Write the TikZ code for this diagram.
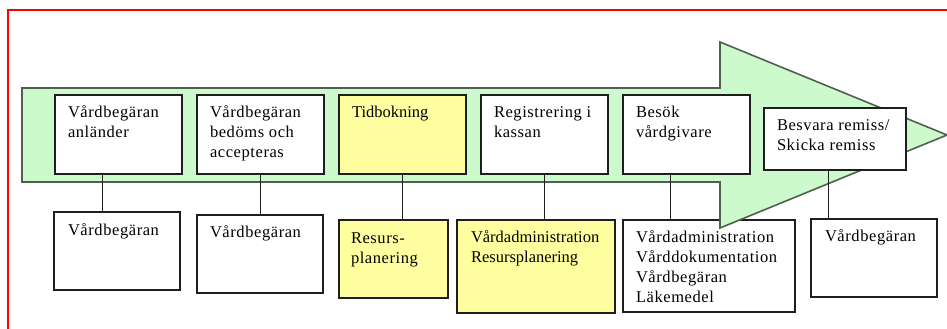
\documentclass[tikz,border=0pt]{standalone}
\usepackage{fontspec}
\setmainfont{Liberation Serif}
\newfontfamily\spc[LetterSpace=3.5]{Liberation Serif}
\definecolor{arrowfill}{RGB}{204,250,204}
\definecolor{arrowline}{RGB}{80,95,80}
\definecolor{boxyellow}{RGB}{255,255,160}
\definecolor{boxline}{RGB}{30,30,30}
\begin{document}
\begin{tikzpicture}[x=1pt,y=-1pt,
  box/.style={draw=boxline, line width=1.3pt, fill=white, inner sep=0pt, outer sep=0pt, anchor=north west},
  ybox/.style={box, fill=boxyellow},
  txt/.style={anchor=north west, inner sep=0pt, outer sep=0pt, align=left, font=\fontsize{16.5}{20}\spc},
  ntxt/.style={txt, font=\fontsize{16.5}{20}\selectfont},
  link/.style={draw=boxline, line width=1pt},
  arrowst/.style={draw=arrowline, fill=arrowfill, line width=1.6pt, line join=miter}]
\useasboundingbox (0,0) rectangle (947,329);
% red frame
\draw[red, line width=1.3pt] (8,329) -- (8,10) -- (947,10);
% bottom boxes
\node[box, minimum width=126pt, minimum height=78pt] (b1) at (54,212) {};
\node[box, minimum width=126pt, minimum height=78pt] (b2) at (197,215) {};
\node[ybox, minimum width=109pt, minimum height=78pt] (b3) at (339,220) {};
\node[ybox, minimum width=158pt, minimum height=93pt] (b4) at (457,220) {};
\node[box, minimum width=172pt, minimum height=92pt] (b5) at (623,220) {};
\node[box, minimum width=126pt, minimum height=78pt] (b6) at (811,219) {};
% arrow
\draw[arrowst] (22,88) -- (720,88) -- (720,42) -- (947,135) -- (720,228) -- (720,182) -- (22,182) -- cycle;
% top boxes
\node[box, minimum width=127pt, minimum height=79pt] (t1) at (55,95) {};
\node[box, minimum width=127pt, minimum height=79pt] (t2) at (197,95) {};
\node[ybox, minimum width=127pt, minimum height=79pt] (t3) at (339,95) {};
\node[box, minimum width=127pt, minimum height=79pt] (t4) at (481,95) {};
\node[box, minimum width=127pt, minimum height=79pt] (t5) at (623,95) {};
\node[box, minimum width=142pt, minimum height=62pt] (t6) at (764,108) {};
% texts
\node[txt] (t1x) at ([xshift=13pt,yshift=-10pt]t1.north west) {\rule{0pt}{12pt}Vårdbegäran\\anländer};
\node[txt] (t2x) at ([xshift=13pt,yshift=-10pt]t2.north west) {\rule{0pt}{12pt}Vårdbegäran\\bedöms och\\accepteras};
\node[ntxt] (t3x) at ([xshift=13pt,yshift=-10pt]t3.north west) {\rule{0pt}{12pt}Tidbokning};
\node[txt] (t4x) at ([xshift=13pt,yshift=-10pt]t4.north west) {\rule{0pt}{12pt}Registrering i\\kassan};
\node[txt] (t5x) at ([xshift=13pt,yshift=-10pt]t5.north west) {\rule{0pt}{12pt}Besök\\vårdgivare};
\node[txt] (t6x) at ([xshift=13pt,yshift=-10pt]t6.north west) {\rule{0pt}{12pt}Besvara remiss/\\Skicka remiss};
\node[txt] (b1x) at ([xshift=14pt,yshift=-11pt]b1.north west) {\rule{0pt}{12pt}Vårdbegäran};
\node[txt] (b2x) at ([xshift=13pt,yshift=-10pt]b2.north west) {\rule{0pt}{12pt}Vårdbegäran};
\node[txt] (b3x) at ([xshift=12pt,yshift=-11pt]b3.north west) {\rule{0pt}{12pt}Resurs-\\planering};
\node[ntxt] (b4x) at ([xshift=14pt,yshift=-10pt]b4.north west) {\rule{0pt}{12pt}Vårdadministration\\Resursplanering};
\node[txt] (b5x) at ([xshift=13pt,yshift=-10pt]b5.north west) {\rule{0pt}{12pt}Vårdadministration\\Vårddokumentation\\Vårdbegäran\\Läkemedel};
\node[txt] (b6x) at ([xshift=14pt,yshift=-10pt]b6.north west) {\rule{0pt}{12pt}Vårdbegäran};
% connectors
\coordinate (k1) at (102,0);
\coordinate (k2) at (260,0);
\coordinate (k3) at (402,0);
\coordinate (k4) at (544,0);
\coordinate (k5) at (670,0);
\coordinate (k6) at (828,0);
\draw[link] (t1.south -| k1) -- (b1.north -| k1);
\draw[link] (t2.south -| k2) -- (b2.north -| k2);
\draw[link] (t3.south -| k3) -- (b3.north -| k3);
\draw[link] (t4.south -| k4) -- (b4.north -| k4);
\draw[link] (t5.south -| k5) -- (b5.north -| k5);
\draw[link] (t6.south -| k6) -- (b6.north -| k6);
\end{tikzpicture}
\end{document}
